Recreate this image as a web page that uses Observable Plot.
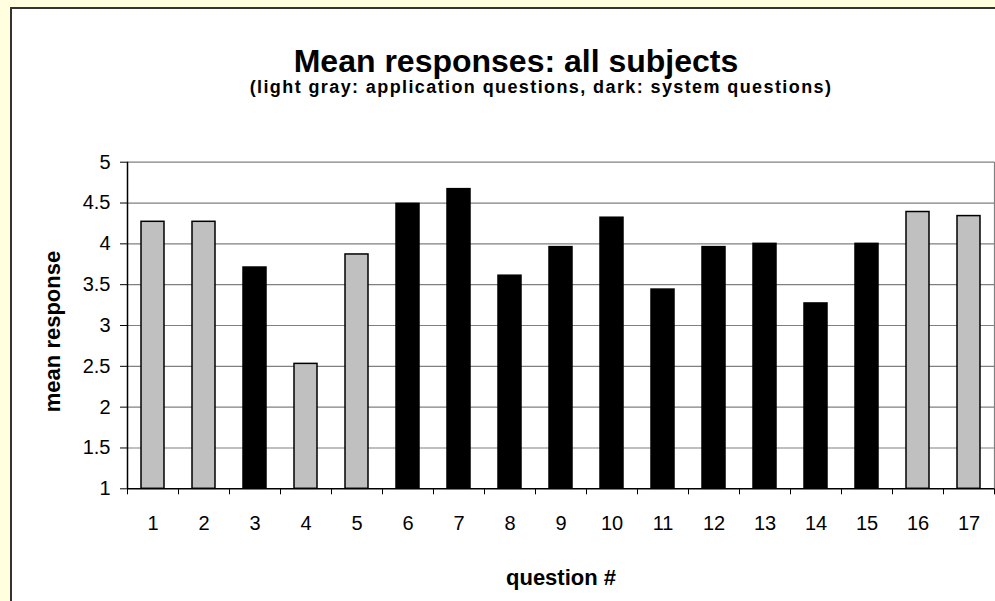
<!DOCTYPE html>
<html>
<head>
<meta charset="utf-8">
<script src="https://cdn.jsdelivr.net/npm/d3@7"></script>
<script src="https://cdn.jsdelivr.net/npm/@observablehq/plot@0.6"></script>
<style>
  html, body { margin: 0; padding: 0; }
  body { width: 995px; height: 601px; overflow: hidden; background: #FFFFE0; position: relative;
         font-family: "Liberation Sans", Arial, sans-serif; }
  #card { position: absolute; left: 10px; top: 7px; width: 1000px; height: 610px; background: #fff;
          border-left: 2px solid #333; border-top: 2px solid #333; }
  .ttl { position: absolute; width: 1000px; text-align: center; font-weight: bold; color: #000; white-space: nowrap; }
  #title { left: 16px; top: 45px; font-size: 32px; line-height: 32px; }
  #subtitle { left: 41px; top: 78px; font-size: 18px; line-height: 18px; letter-spacing: 1.4px; }
  #chart { position: absolute; left: 0; top: 130px; }
</style>
</head>
<body>
<div id="card"></div>
<div class="ttl" id="title">Mean responses: all subjects</div>
<div class="ttl" id="subtitle">(light gray: application questions, dark: system questions)</div>
<div id="chart"></div>
<script>
const questions = ["1","2","3","4","5","6","7","8","9","10","11","12","13","14","15","16","17"];
const means = [4.27, 4.27, 3.71, 2.53, 3.87, 4.49, 4.67, 3.61, 3.96, 4.32, 3.44, 3.96, 4.00, 3.27, 4.00, 4.39, 4.34];
const kinds = ["application","application","system","application","application","system","system","system","system",
               "system","system","system","system","system","system","application","application"];
const yTicks = [1, 1.5, 2, 2.5, 3, 3.5, 4, 4.5, 5];
const xTitle = "question #";
const yTitle = "mean response";

const data = questions.map((q, i) => ({q, v: means[i], kind: kinds[i]}));

const W = 995, H = 471, ML = 127, MR = 1, MT = 31.7, MB = 112.7;
const step = (W - ML - MR) / questions.length;

const chart = Plot.plot({
  width: W, height: H,
  marginLeft: ML, marginRight: MR, marginTop: MT, marginBottom: MB,
  style: {background: "transparent", fontFamily: "'Liberation Sans', Arial, sans-serif", color: "black", overflow: "visible"},
  x: {domain: questions, paddingInner: 0.545, paddingOuter: 0.2725},
  y: {domain: [yTicks[0], yTicks[yTicks.length - 1]]},
  color: {domain: ["application", "system"], range: ["#C0C0C0", "#000000"]},
  marks: [
    Plot.ruleY(yTicks.slice(1), {stroke: "#808080", strokeWidth: 1.2}),
    Plot.ruleX([questions[questions.length - 1]], {dx: step / 2, stroke: "#808080", strokeWidth: 1.2}),
    Plot.barY(data, {x: "q", y1: yTicks[0], y2: "v", fill: "kind", stroke: "black", strokeWidth: 1.5}),
    Plot.axisY(yTicks, {tickSize: 7, tickPadding: 10, tickFormat: d => String(d), fontSize: 20, label: null}),
    Plot.axisX({tickSize: 0, tickPadding: 26.5, fontSize: 20, label: null}),
    Plot.axisX(questions, {tickSize: 6, dx: -step / 2, tickFormat: () => "", label: null}),
    Plot.axisX([questions[questions.length - 1]], {tickSize: 6, dx: step / 2, tickFormat: () => "", label: null}),
    Plot.ruleY([yTicks[0]], {stroke: "black", strokeWidth: 1.5}),
    Plot.ruleX([questions[0]], {dx: -step / 2, stroke: "black", strokeWidth: 1.5}),
    Plot.text([yTitle], {text: d => d, frameAnchor: "left", textAnchor: "middle", lineAnchor: "middle",
                         dx: -74.8, dy: 6, rotate: -90, fontSize: 22, fontWeight: "bold"}),
    Plot.text([xTitle], {text: d => d, frameAnchor: "bottom", textAnchor: "middle", lineAnchor: "middle",
                         dy: 88.7, fontSize: 22, fontWeight: "bold"})
  ]
});
document.getElementById("chart").appendChild(chart);
</script>
</body>
</html>
